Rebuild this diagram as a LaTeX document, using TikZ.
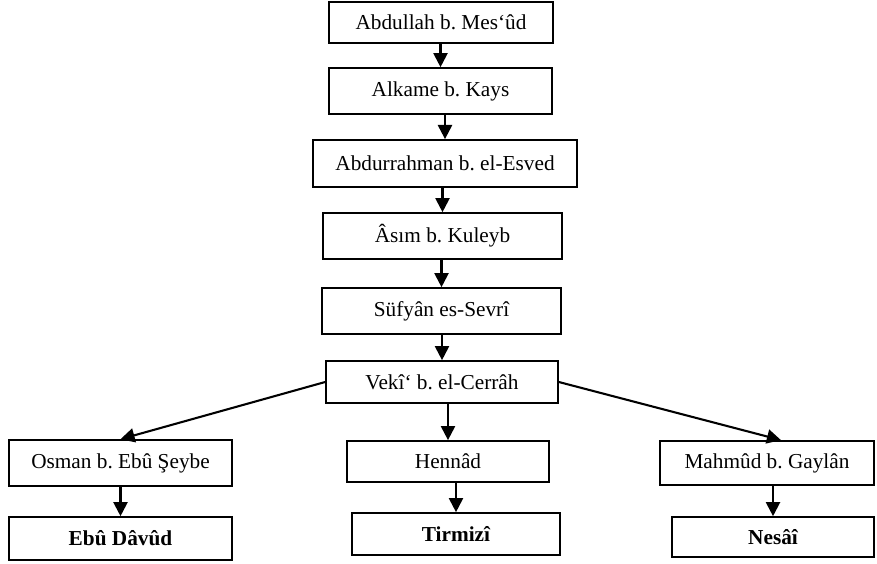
\documentclass[tikz,border=0pt]{standalone}
\usepackage{fontspec}
\setmainfont{Liberation Serif}
\frenchspacing
\usetikzlibrary{arrows.meta,positioning,calc}
\tikzset{
  box/.style={draw, line width=0.9pt, inner sep=0pt, font=\fontsize{11.3}{13}\selectfont},
  final/.style={box, font=\fontsize{11.3}{13}\selectfont\bfseries},
  link/.style={line width=1.1pt, -{Triangle[length=7.5pt,width=7.5pt]}}
}
\begin{document}
\begin{tikzpicture}[x=0.531pt,y=-0.531pt]
      \useasboundingbox (0,0) rectangle (877,563);
      % chain
      \node[box, minimum width=118.9pt, minimum height=21.8pt] (mesud) at (441,22.5) {Abdullah b. Mes‘ûd};
      \node[box, minimum width=118.4pt, minimum height=24.4pt] (alkame) at (440.5,91) {Alkame b. Kays};
      \node[box, minimum width=140.2pt, minimum height=25pt] (esved) at (445,163.5) {Abdurrahman b. el-Esved};
      \node[box, minimum width=126.9pt, minimum height=24.4pt] (asim) at (442.5,236) {Âsım b. Kuleyb};
      \node[box, minimum width=126.9pt, minimum height=24.4pt] (sufyan) at (441.5,311) {Süfyân es-Sevrî};
      \node[box, minimum width=123.2pt, minimum height=22.3pt] (veki) at (442,382) {Vekî‘ b. el-Cerrâh};
      % branches
      \node[box, minimum width=118.4pt, minimum height=24.4pt] (osman) at (120.5,463) {Osman b. Ebû Şeybe};
      \node[box, minimum width=107.3pt, minimum height=21.8pt] (hennad) at (448,461.5) {Hennâd};
      \node[box, minimum width=113.6pt, minimum height=23.4pt] (mahmud) at (767,463) {Mahmûd b. Gaylân};
      \node[final, minimum width=118.4pt, minimum height=22.8pt] (davud) at (120.5,538.5) {Ebû Dâvûd};
      \node[final, minimum width=110.4pt, minimum height=22.3pt] (tirmizi) at (456,534) {Tirmizî};
      \node[final, minimum width=107.3pt, minimum height=21.2pt] (nesai) at (773,537) {Nesâî};
      \foreach \a/\b in {mesud/alkame, alkame/esved, esved/asim, asim/sufyan, sufyan/veki,
                         veki/hennad, osman/davud, hennad/tirmizi, mahmud/nesai}
        \draw[link] (\b.north |- \a.south) -- (\b.north);
      \draw[link] (veki.west) -- (osman.north);
      \draw[link] (veki.east) -- ($(mahmud.north)+(14,0)$);
\end{tikzpicture}
\end{document}
